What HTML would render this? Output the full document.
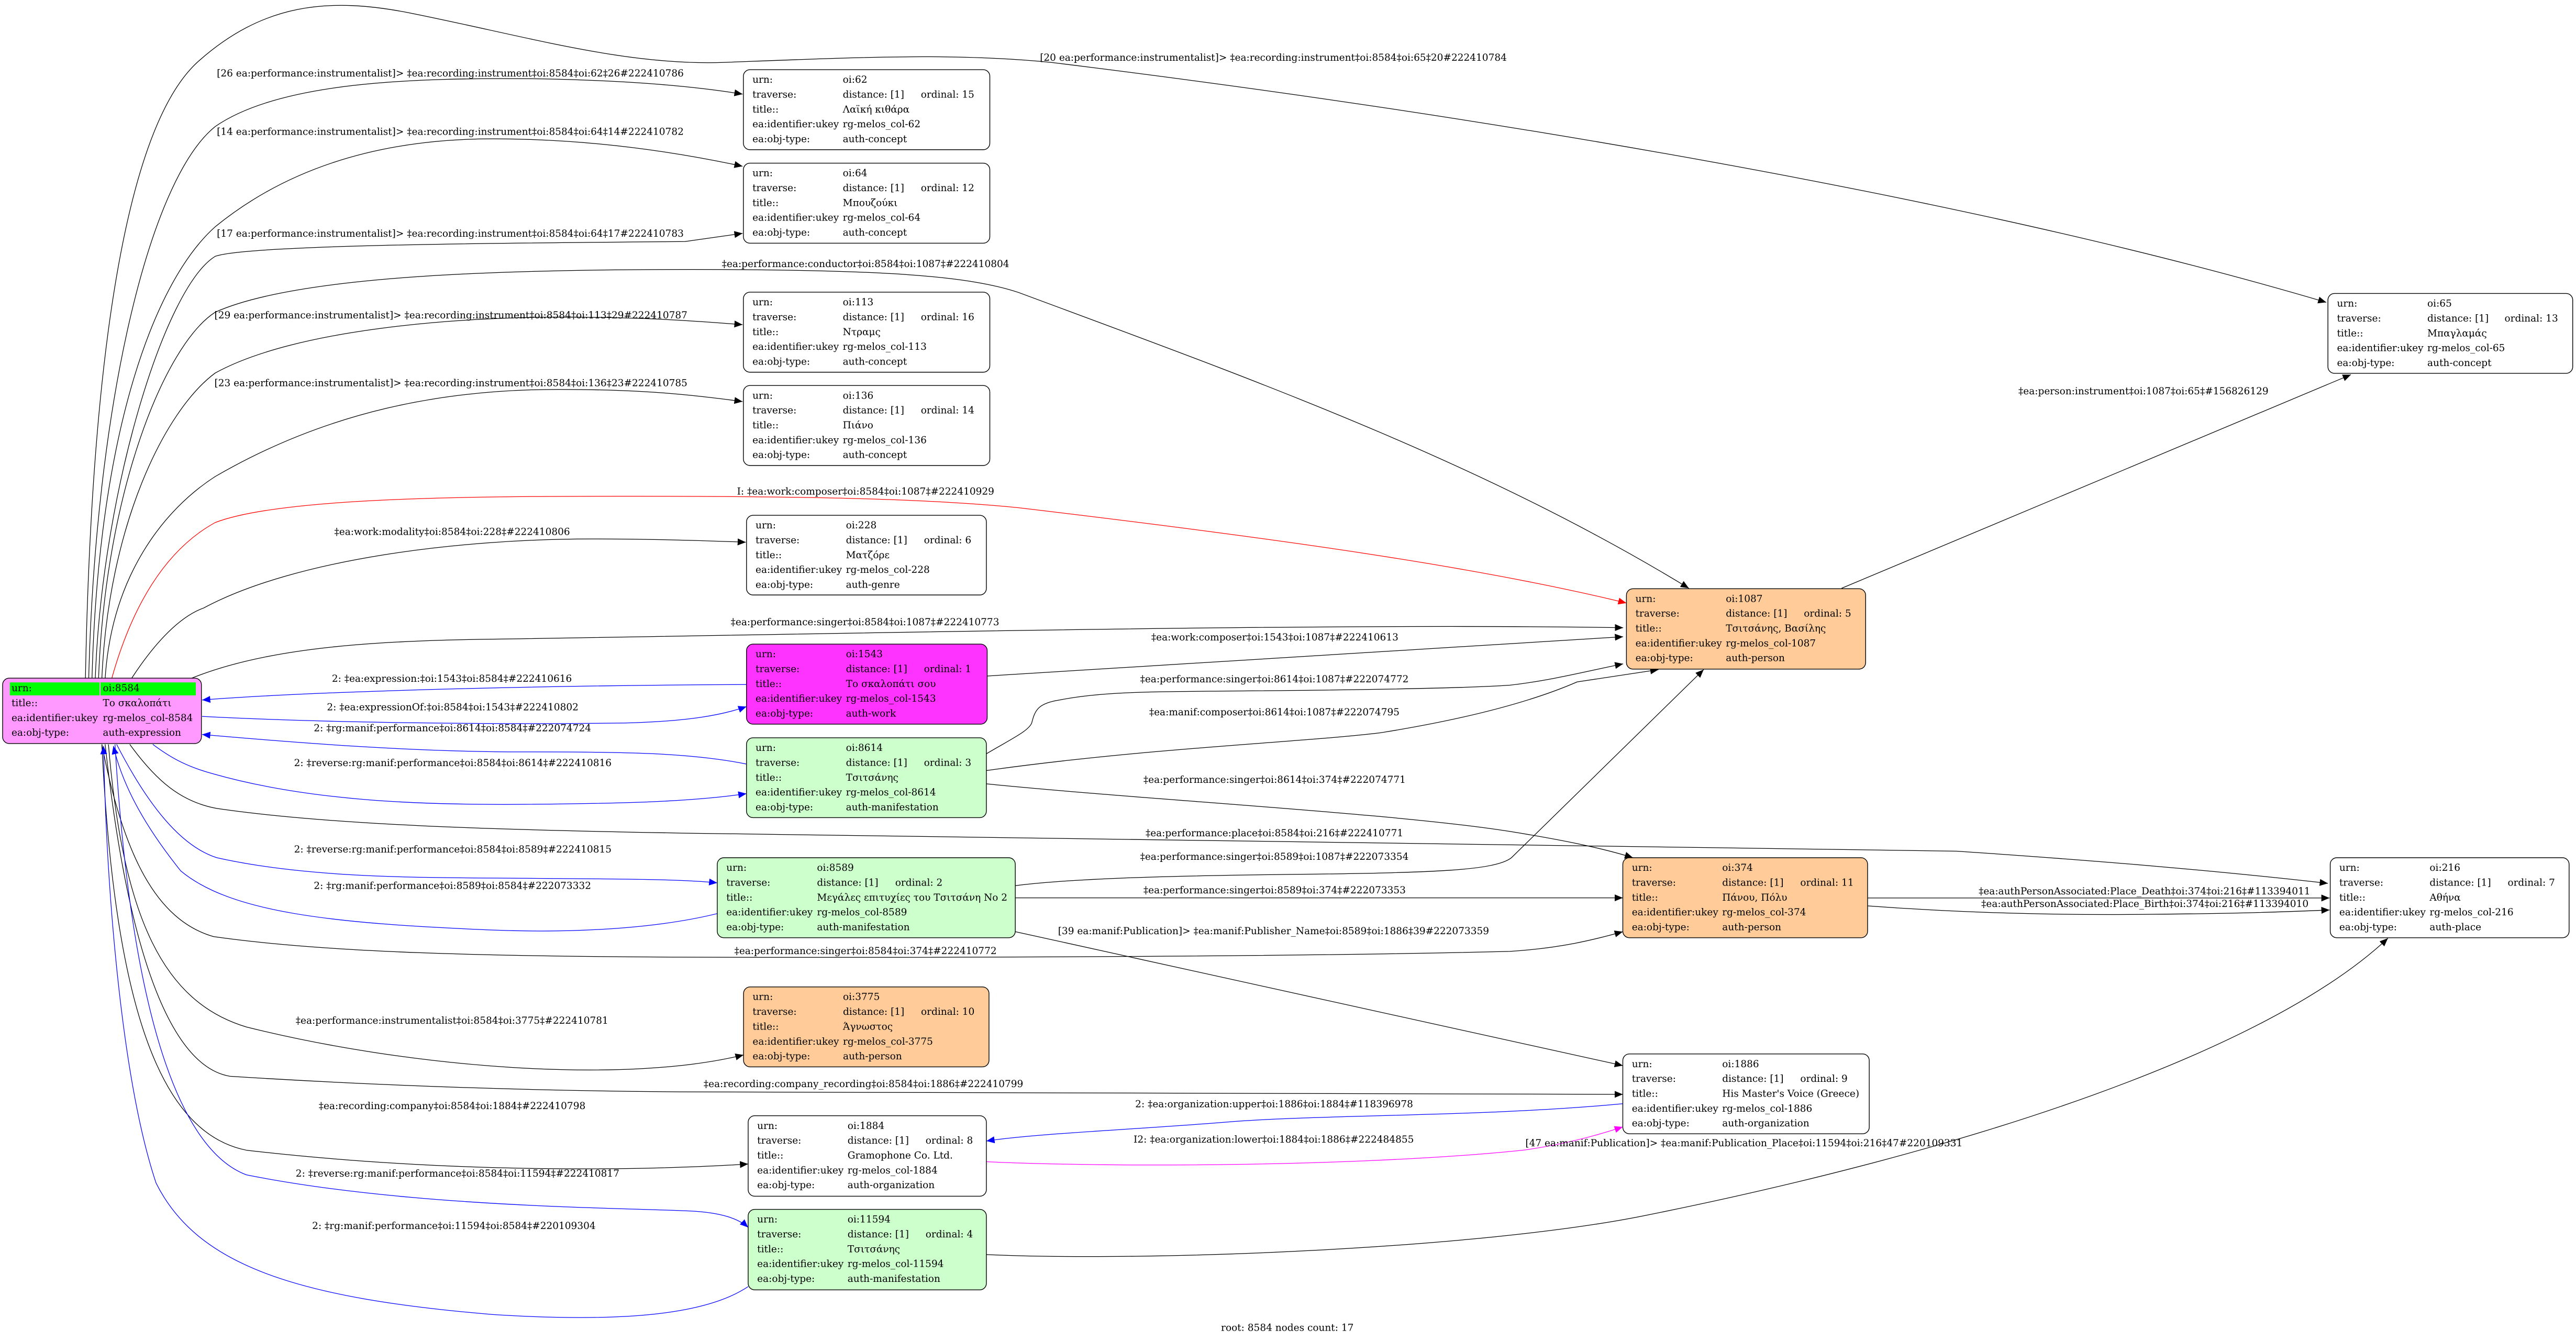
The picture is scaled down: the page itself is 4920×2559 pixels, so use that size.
<!DOCTYPE html>
<html><head><meta charset="utf-8"><style>
html,body{margin:0;padding:0;background:#fff;}
svg{display:block;}
text{font-family:"DejaVu Serif","Liberation Serif",serif;font-size:5.9px;fill:#000;}
</style></head><body>
<svg xmlns="http://www.w3.org/2000/svg" width="4920" height="2559" viewBox="0 0 1568 815.5" preserveAspectRatio="none">
<defs>
<marker id="ak" markerUnits="userSpaceOnUse" markerWidth="6" markerHeight="5" refX="5" refY="2.1" orient="auto"><path d="M0,0 L5,2.1 L0,4.2 z" fill="#000"/></marker>
<marker id="ab" markerUnits="userSpaceOnUse" markerWidth="6" markerHeight="5" refX="5" refY="2.1" orient="auto"><path d="M0,0 L5,2.1 L0,4.2 z" fill="#0000ff"/></marker>
<marker id="ar" markerUnits="userSpaceOnUse" markerWidth="6" markerHeight="5" refX="5" refY="2.1" orient="auto"><path d="M0,0 L5,2.1 L0,4.2 z" fill="#ff0000"/></marker>
<marker id="am" markerUnits="userSpaceOnUse" markerWidth="6" markerHeight="5" refX="5" refY="2.1" orient="auto"><path d="M0,0 L5,2.1 L0,4.2 z" fill="#ff00ff"/></marker>
</defs>
<g fill="none" stroke-width="0.4">
<!-- black edges -->
<g stroke="#000">
<path marker-end="url(#ak)" d="M52,413 C56,200 80,75 120,38 C160,2 200,-2 250,8 C320,22 380,40 440,38 C520,35 580,32 640,38 C900,70 1200,120 1416,184"/>
<path marker-end="url(#ak)" d="M54,413 C58,250 90,110 131,77 C170,50 250,47 330,48 C380,49 420,52 452,57.3"/>
<path marker-end="url(#ak)" d="M56,413 C60,260 95,170 131,138 C180,98 240,84.5 300,84.5 C350,84.5 400,90 452,101.2"/>
<path marker-end="url(#ak)" d="M58,413 C62,300 100,175 131,156 C150,149 300,148 417,147 L452,142"/>
<path marker-end="url(#ak)" d="M60,413 C64,300 100,210 131,190 C180,168 300,164 420,164 C540,164 590,168 620,178 C760,230 900,280 1028,358"/>
<path marker-end="url(#ak)" d="M62,413 C66,320 100,250 131,227 C180,200 280,193 340,193 C390,193 420,195 452,197.6"/>
<path marker-end="url(#ak)" d="M64,413 C68,350 100,310 131,290 C200,250 270,237 340,237 C390,237 420,240 452,244.4"/>
<path marker-end="url(#ak)" d="M80,413 C95,390 110,375 124,370 C180,340 280,328 360,328 C400,328 430,329 454,330"/>
<path marker-end="url(#ak)" d="M116,413 C160,395 220,390 300,389 C500,386 800,379 988,382"/>
<path marker-end="url(#ak)" d="M1121,358 L1431,228"/>
<path marker-end="url(#ak)" d="M601,411.4 L988,387.5"/>
<path marker-end="url(#ak)" d="M600,459 C615,450 626,445 628,440 C630,432 632,428 645,426 C670,421 700,421 743,420.6 C820,420 890,419 919,417 C945,414 968,408 988,404"/>
<path marker-end="url(#ak)" d="M600,469 C700,455 790,452 840,446 C890,438 930,428 960,415 L1009.5,407.5"/>
<path marker-end="url(#ak)" d="M600,477 C700,487 850,495 919,506 C950,511 975,516 994,522"/>
<path marker-end="url(#ak)" d="M79,453 C95,475 110,488 132,492 C200,502 300,505 414,507 C700,511 1000,515 1191,518 C1280,524 1350,530 1417,537.6"/>
<path marker-end="url(#ak)" d="M618,539 C650,535 700,533 800,532 C870,531 910,530 920,522 L1037,407.5"/>
<path marker-end="url(#ak)" d="M618,546.4 L987.8,546.4"/>
<path marker-end="url(#ak)" d="M618,567 L987.8,648.5"/>
<path marker-end="url(#ak)" d="M62,453 C75,520 95,560 130,570 C200,580 300,582 414,582.5 C600,583 800,582 919,579 C950,577 970,572 987.8,567"/>
<path marker-end="url(#ak)" d="M1137,546.5 L1418,546.5"/>
<path marker-end="url(#ak)" d="M1137,551.3 C1200,556 1260,557 1310,556.4 C1360,556 1390,555 1418,553.8"/>
<path marker-end="url(#ak)" d="M66,453 C75,560 100,610 150,625 C250,650 380,660 452.6,642"/>
<path marker-end="url(#ak)" d="M64,453 C80,600 110,650 140,655 C250,662 350,664 414,664.5 L987.8,666"/>
<path marker-end="url(#ak)" d="M62,453 C70,620 100,690 150,700 C280,715 400,712 455.4,708.4"/>
<path marker-end="url(#ak)" d="M600.4,763.5 C700,768 900,760 1000,740 C1200,700 1380,640 1453.5,571"/>
</g>
<path stroke="#ff0000" marker-end="url(#ar)" d="M68,413 C80,370 100,335 131,318 C170,303 280,302 380,302 C480,302 560,303 620,309 C780,328 900,345 990,367"/>
<g stroke="#0000ff">
<path marker-end="url(#ab)" d="M454.4,416.6 C350,417 200,420 123,426"/>
<path marker-end="url(#ab)" d="M123,436 C200,440 300,441 380,440 C420,439 440,435 454.4,430"/>
<path marker-end="url(#ab)" d="M454.4,465 C420,458 380,457.6 318,457.6 C250,457.6 180,452 123,447"/>
<path marker-end="url(#ab)" d="M93,453 C105,462 115,467 130,471 C190,488 260,490 320,489.5 C380,489 420,488 454.4,483"/>
<path marker-end="url(#ab)" d="M71,453 C90,490 110,515 132,522 C190,535 260,534 320,534.5 C380,535 415,535 436.6,537.3"/>
<path marker-end="url(#ab)" d="M436.6,556 C400,565 350,568 300,566 C200,562 140,555 110,530 C90,505 75,480 69,454"/>
<path marker-end="url(#ab)" d="M987.8,671.7 C900,680 800,678 741.5,683.3 C680,688 630,690 600.4,694.4"/>
<path marker-end="url(#ab)" d="M70,453 C80,620 110,700 150,715 C250,735 380,735 420,737 C440,738 450,742 455.4,747"/>
<path marker-end="url(#ab)" d="M455.4,783 C430,800 380,805 300,800 C180,790 120,770 95,720 C75,660 65,550 63,454"/>
</g>
<path stroke="#ff00ff" marker-end="url(#am)" d="M600.4,707 C620,708 660,709 700,709 C800,709 880,705 928.5,699.8 C955,696 975,690 987.8,685.8"/>
</g>

<!-- edge labels -->
<g>
<text x="633" y="37">[20 ea:performance:instrumentalist]&gt; ‡ea:recording:instrument‡oi:8584‡oi:65‡20#222410784</text>
<text x="132" y="46.5">[26 ea:performance:instrumentalist]&gt; ‡ea:recording:instrument‡oi:8584‡oi:62‡26#222410786</text>
<text x="132" y="82">[14 ea:performance:instrumentalist]&gt; ‡ea:recording:instrument‡oi:8584‡oi:64‡14#222410782</text>
<text x="132" y="144">[17 ea:performance:instrumentalist]&gt; ‡ea:recording:instrument‡oi:8584‡oi:64‡17#222410783</text>
<text x="439.4" y="162.5">‡ea:performance:conductor‡oi:8584‡oi:1087‡#222410804</text>
<text x="130.5" y="193.7">[29 ea:performance:instrumentalist]&gt; ‡ea:recording:instrument‡oi:8584‡oi:113‡29#222410787</text>
<text x="130.5" y="235">[23 ea:performance:instrumentalist]&gt; ‡ea:recording:instrument‡oi:8584‡oi:136‡23#222410785</text>
<text x="1228.6" y="240">‡ea:person:instrument‡oi:1087‡oi:65‡#156826129</text>
<text x="448.6" y="301">I: ‡ea:work:composer‡oi:8584‡oi:1087‡#222410929</text>
<text x="203.5" y="325.5">‡ea:work:modality‡oi:8584‡oi:228‡#222410806</text>
<text x="444.8" y="380.5">‡ea:performance:singer‡oi:8584‡oi:1087‡#222410773</text>
<text x="700.8" y="389.8">‡ea:work:composer‡oi:1543‡oi:1087‡#222410613</text>
<text x="202" y="415">2: ‡ea:expression:‡oi:1543‡oi:8584‡#222410616</text>
<text x="694" y="415.3">‡ea:performance:singer‡oi:8614‡oi:1087‡#222074772</text>
<text x="199" y="432.3">2: ‡ea:expressionOf:‡oi:8584‡oi:1543‡#222410802</text>
<text x="699.5" y="435.3">‡ea:manif:composer‡oi:8614‡oi:1087‡#222074795</text>
<text x="191" y="445">2: ‡rg:manif:performance‡oi:8614‡oi:8584‡#222074724</text>
<text x="179" y="466.3">2: ‡reverse:rg:manif:performance‡oi:8584‡oi:8614‡#222410816</text>
<text x="696" y="476.4">‡ea:performance:singer‡oi:8614‡oi:374‡#222074771</text>
<text x="697.3" y="508.9">‡ea:performance:place‡oi:8584‡oi:216‡#222410771</text>
<text x="179" y="518.8">2: ‡reverse:rg:manif:performance‡oi:8584‡oi:8589‡#222410815</text>
<text x="694" y="523.3">‡ea:performance:singer‡oi:8589‡oi:1087‡#222073354</text>
<text x="191" y="541">2: ‡rg:manif:performance‡oi:8589‡oi:8584‡#222073332</text>
<text x="696" y="543.7">‡ea:performance:singer‡oi:8589‡oi:374‡#222073353</text>
<text x="1204.4" y="544.3">‡ea:authPersonAssociated:Place_Death‡oi:374‡oi:216‡#113394011</text>
<text x="1206" y="552">‡ea:authPersonAssociated:Place_Birth‡oi:374‡oi:216‡#113394010</text>
<text x="644" y="568.5">[39 ea:manif:Publication]&gt; ‡ea:manif:Publisher_Name‡oi:8589‡oi:1886‡39#222073359</text>
<text x="447" y="580.7">‡ea:performance:singer‡oi:8584‡oi:374‡#222410772</text>
<text x="180" y="623">‡ea:performance:instrumentalist‡oi:8584‡oi:3775‡#222410781</text>
<text x="428.3" y="661.5">‡ea:recording:company_recording‡oi:8584‡oi:1886‡#222410799</text>
<text x="691" y="673.8">2: ‡ea:organization:upper‡oi:1886‡oi:1884‡#118396978</text>
<text x="194" y="675">‡ea:recording:company‡oi:8584‡oi:1884‡#222410798</text>
<text x="690" y="695.4">I2: ‡ea:organization:lower‡oi:1884‡oi:1886‡#222484855</text>
<text x="928.5" y="697.6">[47 ea:manif:Publication]&gt; ‡ea:manif:Publication_Place‡oi:11594‡oi:216‡47#220109331</text>
<text x="180" y="716">2: ‡reverse:rg:manif:performance‡oi:8584‡oi:11594‡#222410817</text>
<text x="190" y="748">2: ‡rg:manif:performance‡oi:11594‡oi:8584‡#220109304</text>
<text x="783.6" y="810" text-anchor="middle">root: 8584 nodes count: 17</text>
</g>

<!-- root node -->
<g transform="translate(1.6,412.7)">
<rect x="0" y="0" width="121" height="39.8" rx="4" fill="#ff99ff" stroke="#000" stroke-width="0.45"/>
<rect x="4.4" y="2.6" width="54.6" height="7.9" fill="#00ff00"/>
<rect x="59.6" y="2.6" width="58" height="7.9" fill="#00ff00"/>
<text x="5.4" y="8">urn:</text><text x="61" y="8">oi:8584</text>
<text x="5.4" y="17">title::</text><text x="61" y="17">Το σκαλοπάτι</text>
<text x="5.4" y="26.1">ea:identifier:ukey</text><text x="61" y="26.1">rg-melos_col-8584</text>
<text x="5.4" y="35.1">ea:obj-type:</text><text x="61" y="35.1">auth-expression</text>
</g>

<!-- standard nodes -->
<g>
<g transform="translate(452.5,42.4)"><rect width="150" height="48.7" rx="4" fill="#fff" stroke="#000" stroke-width="0.45"/>
<text x="5.5" y="8">urn:</text><text x="60.5" y="8">oi:62</text>
<text x="5.5" y="17">traverse:</text><text x="60.5" y="17">distance: [1]</text><text x="108" y="17">ordinal: 15</text>
<text x="5.5" y="26.1">title::</text><text x="60.5" y="26.1">Λαϊκή κιθάρα</text>
<text x="5.5" y="35.1">ea:identifier:ukey</text><text x="60.5" y="35.1">rg-melos_col-62</text>
<text x="5.5" y="44.1">ea:obj-type:</text><text x="60.5" y="44.1">auth-concept</text></g>

<g transform="translate(452.5,99.3)"><rect width="150" height="48.7" rx="4" fill="#fff" stroke="#000" stroke-width="0.45"/>
<text x="5.5" y="8">urn:</text><text x="60.5" y="8">oi:64</text>
<text x="5.5" y="17">traverse:</text><text x="60.5" y="17">distance: [1]</text><text x="108" y="17">ordinal: 12</text>
<text x="5.5" y="26.1">title::</text><text x="60.5" y="26.1">Μπουζούκι</text>
<text x="5.5" y="35.1">ea:identifier:ukey</text><text x="60.5" y="35.1">rg-melos_col-64</text>
<text x="5.5" y="44.1">ea:obj-type:</text><text x="60.5" y="44.1">auth-concept</text></g>

<g transform="translate(452.5,177.8)"><rect width="150" height="48.7" rx="4" fill="#fff" stroke="#000" stroke-width="0.45"/>
<text x="5.5" y="8">urn:</text><text x="60.5" y="8">oi:113</text>
<text x="5.5" y="17">traverse:</text><text x="60.5" y="17">distance: [1]</text><text x="108" y="17">ordinal: 16</text>
<text x="5.5" y="26.1">title::</text><text x="60.5" y="26.1">Ντραμς</text>
<text x="5.5" y="35.1">ea:identifier:ukey</text><text x="60.5" y="35.1">rg-melos_col-113</text>
<text x="5.5" y="44.1">ea:obj-type:</text><text x="60.5" y="44.1">auth-concept</text></g>

<g transform="translate(452.5,234.6)"><rect width="150" height="48.7" rx="4" fill="#fff" stroke="#000" stroke-width="0.45"/>
<text x="5.5" y="8">urn:</text><text x="60.5" y="8">oi:136</text>
<text x="5.5" y="17">traverse:</text><text x="60.5" y="17">distance: [1]</text><text x="108" y="17">ordinal: 14</text>
<text x="5.5" y="26.1">title::</text><text x="60.5" y="26.1">Πιάνο</text>
<text x="5.5" y="35.1">ea:identifier:ukey</text><text x="60.5" y="35.1">rg-melos_col-136</text>
<text x="5.5" y="44.1">ea:obj-type:</text><text x="60.5" y="44.1">auth-concept</text></g>

<g transform="translate(454.4,313.6)"><rect width="146" height="48.5" rx="4" fill="#fff" stroke="#000" stroke-width="0.45"/>
<text x="5.5" y="8">urn:</text><text x="60.5" y="8">oi:228</text>
<text x="5.5" y="17">traverse:</text><text x="60.5" y="17">distance: [1]</text><text x="108" y="17">ordinal: 6</text>
<text x="5.5" y="26.1">title::</text><text x="60.5" y="26.1">Ματζόρε</text>
<text x="5.5" y="35.1">ea:identifier:ukey</text><text x="60.5" y="35.1">rg-melos_col-228</text>
<text x="5.5" y="44.1">ea:obj-type:</text><text x="60.5" y="44.1">auth-genre</text></g>

<g transform="translate(454.4,392)"><rect width="146.5" height="48.7" rx="4" fill="#ff33ff" stroke="#000" stroke-width="0.45"/>
<text x="5.5" y="8">urn:</text><text x="60.5" y="8">oi:1543</text>
<text x="5.5" y="17">traverse:</text><text x="60.5" y="17">distance: [1]</text><text x="108" y="17">ordinal: 1</text>
<text x="5.5" y="26.1">title::</text><text x="60.5" y="26.1">Το σκαλοπάτι σου</text>
<text x="5.5" y="35.1">ea:identifier:ukey</text><text x="60.5" y="35.1">rg-melos_col-1543</text>
<text x="5.5" y="44.1">ea:obj-type:</text><text x="60.5" y="44.1">auth-work</text></g>

<g transform="translate(454.4,449)"><rect width="146" height="48.6" rx="4" fill="#ccffcc" stroke="#000" stroke-width="0.45"/>
<text x="5.5" y="8">urn:</text><text x="60.5" y="8">oi:8614</text>
<text x="5.5" y="17">traverse:</text><text x="60.5" y="17">distance: [1]</text><text x="108" y="17">ordinal: 3</text>
<text x="5.5" y="26.1">title::</text><text x="60.5" y="26.1">Τσιτσάνης</text>
<text x="5.5" y="35.1">ea:identifier:ukey</text><text x="60.5" y="35.1">rg-melos_col-8614</text>
<text x="5.5" y="44.1">ea:obj-type:</text><text x="60.5" y="44.1">auth-manifestation</text></g>

<g transform="translate(436.6,522)"><rect width="181.4" height="48.7" rx="4" fill="#ccffcc" stroke="#000" stroke-width="0.45"/>
<text x="5.5" y="8">urn:</text><text x="60.7" y="8">oi:8589</text>
<text x="5.5" y="17">traverse:</text><text x="60.7" y="17">distance: [1]</text><text x="108.3" y="17">ordinal: 2</text>
<text x="5.5" y="26.1">title::</text><text x="60.7" y="26.1">Μεγάλες επιτυχίες του Τσιτσάνη No 2</text>
<text x="5.5" y="35.1">ea:identifier:ukey</text><text x="60.7" y="35.1">rg-melos_col-8589</text>
<text x="5.5" y="44.1">ea:obj-type:</text><text x="60.7" y="44.1">auth-manifestation</text></g>

<g transform="translate(452.6,600.6)"><rect width="149.4" height="48.7" rx="4" fill="#ffcc99" stroke="#000" stroke-width="0.45"/>
<text x="5.5" y="8">urn:</text><text x="60.5" y="8">oi:3775</text>
<text x="5.5" y="17">traverse:</text><text x="60.5" y="17">distance: [1]</text><text x="108" y="17">ordinal: 10</text>
<text x="5.5" y="26.1">title::</text><text x="60.5" y="26.1">Άγνωστος</text>
<text x="5.5" y="35.1">ea:identifier:ukey</text><text x="60.5" y="35.1">rg-melos_col-3775</text>
<text x="5.5" y="44.1">ea:obj-type:</text><text x="60.5" y="44.1">auth-person</text></g>

<g transform="translate(455.4,679)"><rect width="145" height="49" rx="4" fill="#fff" stroke="#000" stroke-width="0.45"/>
<text x="5.5" y="8">urn:</text><text x="60.5" y="8">oi:1884</text>
<text x="5.5" y="17">traverse:</text><text x="60.5" y="17">distance: [1]</text><text x="108" y="17">ordinal: 8</text>
<text x="5.5" y="26.1">title::</text><text x="60.5" y="26.1">Gramophone Co. Ltd.</text>
<text x="5.5" y="35.1">ea:identifier:ukey</text><text x="60.5" y="35.1">rg-melos_col-1884</text>
<text x="5.5" y="44.1">ea:obj-type:</text><text x="60.5" y="44.1">auth-organization</text></g>

<g transform="translate(455.4,736)"><rect width="145" height="49" rx="4" fill="#ccffcc" stroke="#000" stroke-width="0.45"/>
<text x="5.5" y="8">urn:</text><text x="60.5" y="8">oi:11594</text>
<text x="5.5" y="17">traverse:</text><text x="60.5" y="17">distance: [1]</text><text x="108" y="17">ordinal: 4</text>
<text x="5.5" y="26.1">title::</text><text x="60.5" y="26.1">Τσιτσάνης</text>
<text x="5.5" y="35.1">ea:identifier:ukey</text><text x="60.5" y="35.1">rg-melos_col-11594</text>
<text x="5.5" y="44.1">ea:obj-type:</text><text x="60.5" y="44.1">auth-manifestation</text></g>

<g transform="translate(990,358.3)"><rect width="145.6" height="48.9" rx="4" fill="#ffcc99" stroke="#000" stroke-width="0.45"/>
<text x="5.5" y="8">urn:</text><text x="60.5" y="8">oi:1087</text>
<text x="5.5" y="17">traverse:</text><text x="60.5" y="17">distance: [1]</text><text x="108" y="17">ordinal: 5</text>
<text x="5.5" y="26.1">title::</text><text x="60.5" y="26.1">Τσιτσάνης, Βασίλης</text>
<text x="5.5" y="35.1">ea:identifier:ukey</text><text x="60.5" y="35.1">rg-melos_col-1087</text>
<text x="5.5" y="44.1">ea:obj-type:</text><text x="60.5" y="44.1">auth-person</text></g>

<g transform="translate(987.8,522)"><rect width="149" height="48.7" rx="4" fill="#ffcc99" stroke="#000" stroke-width="0.45"/>
<text x="5.5" y="8">urn:</text><text x="60.5" y="8">oi:374</text>
<text x="5.5" y="17">traverse:</text><text x="60.5" y="17">distance: [1]</text><text x="108" y="17">ordinal: 11</text>
<text x="5.5" y="26.1">title::</text><text x="60.5" y="26.1">Πάνου, Πόλυ</text>
<text x="5.5" y="35.1">ea:identifier:ukey</text><text x="60.5" y="35.1">rg-melos_col-374</text>
<text x="5.5" y="44.1">ea:obj-type:</text><text x="60.5" y="44.1">auth-person</text></g>

<g transform="translate(987.8,641.4)"><rect width="150" height="48.6" rx="4" fill="#fff" stroke="#000" stroke-width="0.45"/>
<text x="5.5" y="8">urn:</text><text x="60.5" y="8">oi:1886</text>
<text x="5.5" y="17">traverse:</text><text x="60.5" y="17">distance: [1]</text><text x="108" y="17">ordinal: 9</text>
<text x="5.5" y="26.1">title::</text><text x="60.5" y="26.1">His Master's Voice (Greece)</text>
<text x="5.5" y="35.1">ea:identifier:ukey</text><text x="60.5" y="35.1">rg-melos_col-1886</text>
<text x="5.5" y="44.1">ea:obj-type:</text><text x="60.5" y="44.1">auth-organization</text></g>

<g transform="translate(1418.4,522)"><rect width="145.4" height="48.7" rx="4" fill="#fff" stroke="#000" stroke-width="0.45"/>
<text x="5.5" y="8">urn:</text><text x="60.5" y="8">oi:216</text>
<text x="5.5" y="17">traverse:</text><text x="60.5" y="17">distance: [1]</text><text x="108" y="17">ordinal: 7</text>
<text x="5.5" y="26.1">title::</text><text x="60.5" y="26.1">Αθήνα</text>
<text x="5.5" y="35.1">ea:identifier:ukey</text><text x="60.5" y="35.1">rg-melos_col-216</text>
<text x="5.5" y="44.1">ea:obj-type:</text><text x="60.5" y="44.1">auth-place</text></g>

<g transform="translate(1417,178.6)"><rect width="149" height="48.6" rx="4" fill="#fff" stroke="#000" stroke-width="0.45"/>
<text x="5.5" y="8">urn:</text><text x="60.5" y="8">oi:65</text>
<text x="5.5" y="17">traverse:</text><text x="60.5" y="17">distance: [1]</text><text x="107.5" y="17">ordinal: 13</text>
<text x="5.5" y="26.1">title::</text><text x="60.5" y="26.1">Μπαγλαμάς</text>
<text x="5.5" y="35.1">ea:identifier:ukey</text><text x="60.5" y="35.1">rg-melos_col-65</text>
<text x="5.5" y="44.1">ea:obj-type:</text><text x="60.5" y="44.1">auth-concept</text></g>
</g>
</svg>
</body></html>
